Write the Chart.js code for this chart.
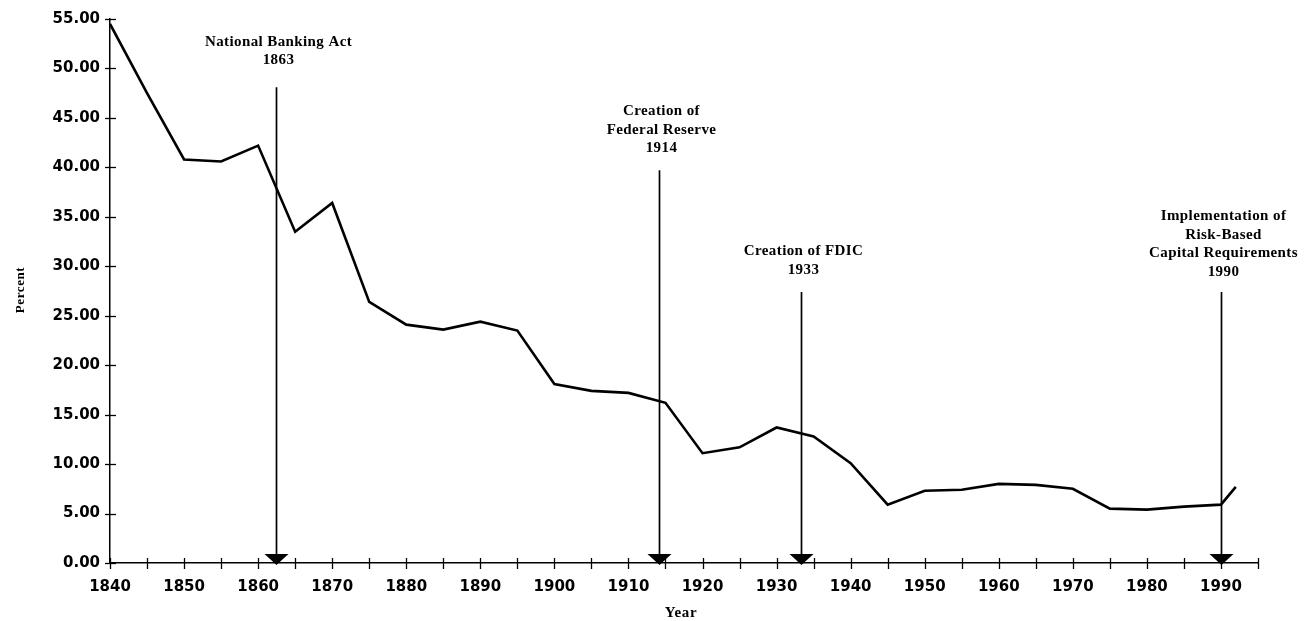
<!DOCTYPE html>
<html>
<head>
<meta charset="utf-8">
<script src="https://cdn.jsdelivr.net/npm/chart.js@4"></script>
<style>
  html, body { margin: 0; padding: 0; background: #fff; }
  #wrap { width: 1304px; height: 621px; position: relative; }
</style>
</head>
<body>
<div id="wrap"><canvas id="myChart"></canvas></div>
<script>
// data
var years = [1840, 1845, 1850, 1855, 1860, 1865, 1870, 1875, 1880, 1885, 1890, 1895,
  1900, 1905, 1910, 1915, 1920, 1925, 1930, 1935, 1940, 1945, 1950, 1955, 1960,
  1965, 1970, 1975, 1980, 1985, 1990, 1992];
var percent = [54.5, 47.5, 40.8, 40.6, 42.2, 33.5, 36.4, 26.4, 24.1, 23.6, 24.4, 23.5,
  18.1, 17.4, 17.2, 16.2, 11.1, 11.7, 13.7, 12.8, 10.1, 5.9, 7.3, 7.4, 8.0,
  7.9, 7.5, 5.5, 5.4, 5.7, 5.9, 7.7];
var eventYears = [1863, 1914, 1933, 1990];
var eventLabels = [
  ["National Banking Act", "1863"],
  ["Creation of", "Federal Reserve", "1914"],
  ["Creation of FDIC", "1933"],
  ["Implementation of", "Risk-Based", "Capital Requirements", "1990"]
];
var yTickLabels = ["0.00", "5.00", "10.00", "15.00", "20.00", "25.00", "30.00",
  "35.00", "40.00", "45.00", "50.00", "55.00"];

// where the arrows are drawn (x in years, arrow top in percent)
var arrowX = [1862.4, 1914.1, 1933.3, 1990];
var arrowTop = [48.1, 39.7, 27.4, 27.4];
var labelGap = [27, 22, 22, 20];

var serif = "'Liberation Serif', 'Times New Roman', serif";
var sans = "'DejaVu Sans', Arial, sans-serif";

var extras = {
  id: "extras",
  afterDraw: function (chart) {
    var ctx = chart.ctx;
    var xs = chart.scales.x, ys = chart.scales.y;
    var x0 = xs.left, y0 = ys.bottom;
    ctx.save();
    ctx.strokeStyle = "#000";
    ctx.lineWidth = 1.3;
    // crossing tick marks
    xs.ticks.forEach(function (t) {
      var px = Math.round(xs.getPixelForValue(t.value)) + 0.5;
      ctx.beginPath();
      ctx.moveTo(px, y0 - 5);
      ctx.lineTo(px, y0 + 6);
      ctx.stroke();
    });
    ys.ticks.forEach(function (t) {
      var py = Math.round(ys.getPixelForValue(t.value)) + 0.5;
      ctx.beginPath();
      ctx.moveTo(x0 - 5, py);
      ctx.lineTo(x0 + 6, py);
      ctx.stroke();
    });
    // event arrows and labels
    for (var i = 0; i < eventYears.length; i++) {
      var ax = Math.round(xs.getPixelForValue(arrowX[i])) + 0.5;
      var top = ys.getPixelForValue(arrowTop[i]);
      ctx.lineWidth = 1.7;
      ctx.beginPath();
      ctx.moveTo(ax, top);
      ctx.lineTo(ax, y0 - 8);
      ctx.stroke();
      ctx.fillStyle = "#000";
      ctx.beginPath();
      ctx.moveTo(ax - 12, y0 - 9);
      ctx.lineTo(ax + 12, y0 - 9);
      ctx.lineTo(ax, y0 + 2);
      ctx.closePath();
      ctx.fill();

      var lines = eventLabels[i];
      ctx.font = "bold 15px " + serif;
      ctx.letterSpacing = "0.4px";
      ctx.textAlign = "center";
      ctx.textBaseline = "middle";
      var lastY = top - labelGap[i];
      for (var j = 0; j < lines.length; j++) {
        ctx.fillText(lines[j], ax + 2, lastY - (lines.length - 1 - j) * 18.5);
      }
    }
    // axis titles
    ctx.font = "bold 15px " + serif;
    ctx.letterSpacing = "0.6px";
    ctx.fillText("Year", 681, 613);
    ctx.save();
    ctx.translate(21, 290);
    ctx.rotate(-Math.PI / 2);
    ctx.font = "bold 13px " + serif;
    ctx.letterSpacing = "0.6px";
    ctx.fillText("Percent", 0, 0);
    ctx.restore();
    ctx.restore();
  }
};

var ctx = document.getElementById("myChart").getContext("2d");
var myChart = new Chart(ctx, {
  type: "line",
  data: {
    datasets: [
      {
        data: years.map(function (y, i) { return { x: y, y: percent[i] }; }),
        borderColor: "#000",
        borderWidth: 2.6,
        pointRadius: 0,
        tension: 0,
        fill: false
      }
    ]
  },
  options: {
    responsive: true,
    maintainAspectRatio: false,
    animation: false,
    layout: { padding: { top: 19, right: 46, left: 0, bottom: 0 } },
    plugins: {
      legend: { display: false },
      tooltip: { enabled: false }
    },
    scales: {
      x: {
        type: "linear",
        min: 1840,
        max: 1995,
        afterFit: function (s) { s.height = 58; },
        grid: { display: false, drawTicks: false },
        border: { display: true, color: "#000", width: 1.5 },
        ticks: {
          stepSize: 5,
          autoSkip: false,
          maxRotation: 0,
          padding: 15,
          color: "#000",
          font: { family: sans, size: 15, weight: "bold" },
          callback: function (v) { return v % 10 === 0 && v <= 1990 ? String(v) : ""; }
        }
      },
      y: {
        min: 0,
        max: 55,
        afterFit: function (s) { s.width = 110; },
        grid: { display: false, drawTicks: false },
        border: { display: true, color: "#000", width: 1.5 },
        ticks: {
          stepSize: 5,
          padding: 10,
          color: "#000",
          font: { family: sans, size: 15, weight: "bold" },
          callback: function (v) { return yTickLabels[Math.round(v / 5)]; }
        }
      }
    }
  },
  plugins: [extras]
});
</script>
</body>
</html>
